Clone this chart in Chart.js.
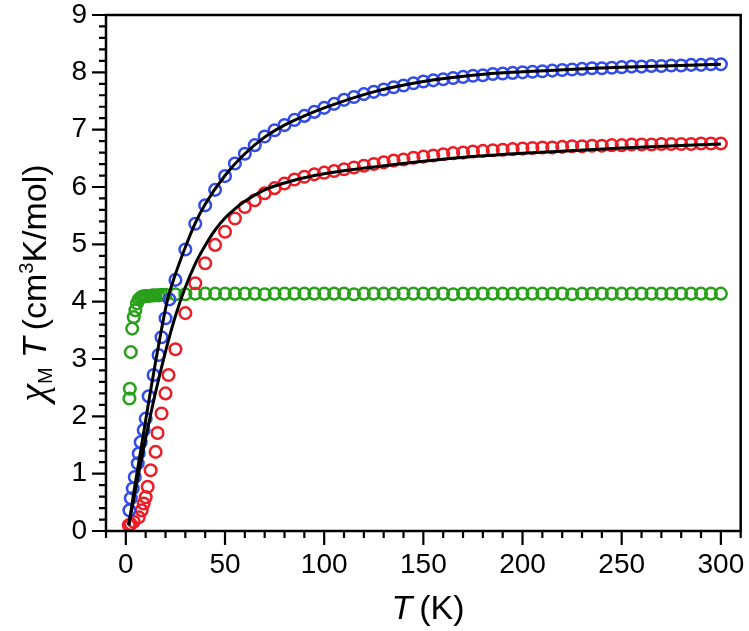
<!DOCTYPE html>
<html>
<head>
<meta charset="utf-8">
<script src="https://cdn.jsdelivr.net/npm/chart.js@4.4.1/dist/chart.umd.min.js"></script>
<style>
  html, body { margin: 0; padding: 0; background: #fff; }
</style>
</head>
<body>
<canvas id="chart" width="749" height="631"></canvas>
<script>
// chi_M T data (T in K, chi_M T in cm3 K/mol)
const blueT = [1.8, 2.5, 3.5, 4.5, 6, 6.5, 7.5, 9, 10, 11.5, 14, 16.5, 18, 20, 22, 25,
  30, 35, 40, 45, 50, 55, 60, 65, 70, 75, 80, 85, 90, 95,
  100, 105, 110, 115, 120, 125, 130, 135, 140, 145, 150, 155, 160, 165, 170, 175, 180, 185, 190, 195,
  200, 205, 210, 215, 220, 225, 230, 235, 240, 245, 250, 255, 260, 265, 270, 275, 280, 285, 290, 295, 300];
const blueV = [0.36, 0.57, 0.74, 0.94, 1.18, 1.35, 1.55, 1.76, 1.96, 2.35, 2.72, 3.07, 3.38, 3.71, 4.04, 4.38,
  4.91, 5.36, 5.68, 5.95, 6.19, 6.41, 6.58, 6.73, 6.88, 6.99, 7.08, 7.17, 7.24, 7.31,
  7.38, 7.45, 7.52, 7.57, 7.62, 7.66, 7.70, 7.74, 7.77, 7.81, 7.84, 7.86, 7.88, 7.90, 7.92, 7.94, 7.95, 7.97, 7.98, 7.99,
  8.00, 8.01, 8.02, 8.03, 8.04, 8.05, 8.06, 8.07, 8.07, 8.08, 8.09, 8.10, 8.10, 8.11, 8.11, 8.12, 8.12, 8.13, 8.13, 8.14, 8.14];

const redT = [1.5, 2.5, 4, 6.5, 8, 9, 10, 11, 12.5, 15, 16, 18, 20, 21.5, 25, 30, 35, 40,
  45, 50, 55, 60, 65, 70, 75, 80, 85, 90, 95,
  100, 105, 110, 115, 120, 125, 130, 135, 140, 145, 150, 155, 160, 165, 170, 175, 180, 185, 190, 195,
  200, 205, 210, 215, 220, 225, 230, 235, 240, 245, 250, 255, 260, 265, 270, 275, 280, 285, 290, 295, 300];
const redV = [0.10, 0.12, 0.16, 0.24, 0.36, 0.48, 0.59, 0.77, 1.06, 1.38, 1.71, 2.05, 2.40, 2.72, 3.17, 3.80, 4.32, 4.67,
  4.99, 5.22, 5.45, 5.65, 5.77, 5.89, 5.98, 6.06, 6.13, 6.18, 6.22,
  6.25, 6.28, 6.31, 6.34, 6.37, 6.40, 6.43, 6.46, 6.48, 6.51, 6.53, 6.55, 6.57, 6.59, 6.60, 6.62, 6.63, 6.64, 6.65, 6.66,
  6.67, 6.68, 6.69, 6.69, 6.70, 6.71, 6.71, 6.72, 6.72, 6.73, 6.73, 6.74, 6.74, 6.74, 6.75, 6.75, 6.75, 6.75, 6.76, 6.76, 6.76];

const greenT = [1.8, 2.0, 2.5, 3.2, 4, 4.8, 5.6, 6.5, 7.5, 8.5, 9.5, 10.5, 12, 13.5, 15, 16.5, 18, 20,
  25, 30, 35, 40, 45, 50, 55, 60, 65, 70, 75, 80, 85, 90, 95,
  100, 105, 110, 115, 120, 125, 130, 135, 140, 145, 150, 155, 160, 165, 170, 175, 180, 185, 190, 195,
  200, 205, 210, 215, 220, 225, 230, 235, 240, 245, 250, 255, 260, 265, 270, 275, 280, 285, 290, 295, 300];
const greenV = [2.31, 2.48, 3.12, 3.53, 3.73, 3.85, 3.97, 4.04, 4.07, 4.09, 4.10, 4.10, 4.10, 4.11, 4.11, 4.11, 4.12, 4.12,
  4.13, 4.13, 4.14, 4.14, 4.14, 4.14, 4.14, 4.14, 4.14, 4.13, 4.14, 4.14, 4.14, 4.14, 4.14,
  4.14, 4.14, 4.14, 4.13, 4.14, 4.14, 4.14, 4.14, 4.14, 4.14, 4.14, 4.14, 4.14, 4.13, 4.14, 4.14, 4.14, 4.14, 4.14, 4.14,
  4.14, 4.14, 4.14, 4.14, 4.14, 4.13, 4.14, 4.14, 4.14, 4.14, 4.14, 4.14, 4.14, 4.14, 4.14, 4.14, 4.14, 4.14, 4.14, 4.14, 4.14];

// fitted curves (black lines)
const blueFitT = [1.5, 4, 7, 10, 12, 15, 18, 21, 25, 30, 35, 40, 50, 60, 70, 80, 90, 100, 125, 150, 175, 200, 250, 300];
const blueFitV = [0.10, 0.67, 1.30, 1.93, 2.35, 2.95, 3.52, 4.03, 4.48, 4.95, 5.37, 5.70, 6.20, 6.58, 6.87, 7.08, 7.24, 7.38, 7.66, 7.84, 7.95, 8.01, 8.09, 8.14];
const redFitT = [1.5, 5, 10, 15, 20, 25, 30, 35, 40, 45, 50, 55, 60, 70, 80, 90, 100, 125, 150, 175, 200, 250, 300];
const redFitV = [0.10, 0.75, 1.62, 2.42, 3.13, 3.75, 4.25, 4.66, 4.98, 5.25, 5.46, 5.62, 5.75, 5.95, 6.07, 6.16, 6.23, 6.35, 6.45, 6.53, 6.59, 6.68, 6.75];

const xTicks = [0, 50, 100, 150, 200, 250, 300];
const yTicks = [0, 1, 2, 3, 4, 5, 6, 7, 8, 9];

const pts = (xs, ys) => xs.map((x, i) => ({x, y: ys[i]}));
const FONT = '"Liberation Sans", Arial, sans-serif';

const markers = (label, xs, ys, color, order) => ({
  label, data: pts(xs, ys), showLine: false, order,
  pointStyle: 'circle', pointRadius: 5.8, pointBorderWidth: 2.5,
  pointBorderColor: color, pointBackgroundColor: 'rgba(0,0,0,0)'
});
const fitLine = (label, xs, ys) => ({
  label, data: pts(xs, ys), showLine: true, order: 0,
  borderColor: '#000', borderWidth: 3, pointRadius: 0,
  cubicInterpolationMode: 'monotone'
});

// frame, tick marks and rich axis titles
const decor = {
  id: 'decor',
  afterDraw(chart) {
    const {ctx, chartArea: a, scales: {x, y}} = chart;
    ctx.save();
    ctx.strokeStyle = '#000';
    ctx.lineWidth = 2.5;
    ctx.strokeRect(a.left, a.top, a.right - a.left, a.bottom - a.top);
    ctx.lineWidth = 2.2;
    ctx.beginPath();
    for (let v = -10; v <= 310; v += 10) {
      const px = x.getPixelForValue(v);
      const len = v % 50 === 0 ? 14 : 7;
      ctx.moveTo(px, a.bottom);
      ctx.lineTo(px, a.bottom + len);
    }
    for (let k = 0; k <= 45; k++) {
      const py = y.getPixelForValue(k / 5);
      const len = k % 5 === 0 ? 14 : 7;
      ctx.moveTo(a.left, py);
      ctx.lineTo(a.left - len, py);
    }
    ctx.stroke();

    ctx.fillStyle = '#000';
    ctx.textBaseline = 'alphabetic';
    // x title: T (K)
    const xParts = [
      {t: 'T', f: 'italic 34px ' + FONT},
      {t: '\u2009(K)', f: '34px ' + FONT}
    ];
    drawParts(ctx, xParts, 428, 619);

    // y title: chi_M T (cm3K/mol), rotated
    ctx.translate(46, 283);
    ctx.rotate(-Math.PI / 2);
    const yParts = [
      {t: '\u03C7', f: 'italic 40px "Liberation Serif", serif'},
      {t: 'M', f: '20px ' + FONT, dy: 6},
      {t: ' ', f: '34px ' + FONT},
      {t: 'T', f: 'italic 34px ' + FONT},
      {t: '\u2009(cm', f: '34px ' + FONT},
      {t: '3', f: '20px ' + FONT, dy: -13},
      {t: 'K/mol)', f: '34px ' + FONT}
    ];
    drawParts(ctx, yParts, 0, 0);
    ctx.restore();
  }
};

function drawParts(ctx, parts, cx, base) {
  let w = 0;
  parts.forEach(p => { ctx.font = p.f; p.w = ctx.measureText(p.t).width; w += p.w; });
  let cur = cx - w / 2;
  parts.forEach(p => {
    ctx.font = p.f;
    ctx.fillText(p.t, cur, base + (p.dy || 0));
    cur += p.w;
  });
}

new Chart(document.getElementById('chart'), {
  type: 'scatter',
  data: {
    datasets: [
      fitLine('blue fit', blueFitT, blueFitV),
      fitLine('red fit', redFitT, redFitV),
      markers('blue', blueT, blueV, 'rgb(50,75,235)', 1),
      markers('red', redT, redV, 'rgb(238,28,36)', 2),
      markers('green', greenT, greenV, 'rgb(40,160,25)', 3)
    ]
  },
  options: {
    responsive: false,
    animation: false,
    devicePixelRatio: 1,
    layout: {padding: {top: 15, right: 7, left: 0, bottom: 0}},
    plugins: {legend: {display: false}, tooltip: {enabled: false}},
    scales: {
      x: {
        type: 'linear', min: -10, max: 310,
        afterBuildTicks: s => { s.ticks = xTicks.map(value => ({value})); },
        afterFit: s => { s.height = 100; s.paddingLeft = 0; s.paddingRight = 0; },
        grid: {display: false, drawTicks: false},
        border: {display: false},
        ticks: {autoSkip: false, maxRotation: 0, padding: 17, color: '#000', font: {family: FONT, size: 28}}
      },
      y: {
        type: 'linear', min: 0, max: 9,
        afterBuildTicks: s => { s.ticks = yTicks.map(value => ({value})); },
        afterFit: s => { s.width = 106; s.paddingTop = 0; s.paddingBottom = 0; },
        grid: {display: false, drawTicks: false},
        border: {display: false},
        ticks: {autoSkip: false, padding: 19, color: '#000', font: {family: FONT, size: 28}}
      }
    }
  },
  plugins: [decor]
});
</script>
</body>
</html>
